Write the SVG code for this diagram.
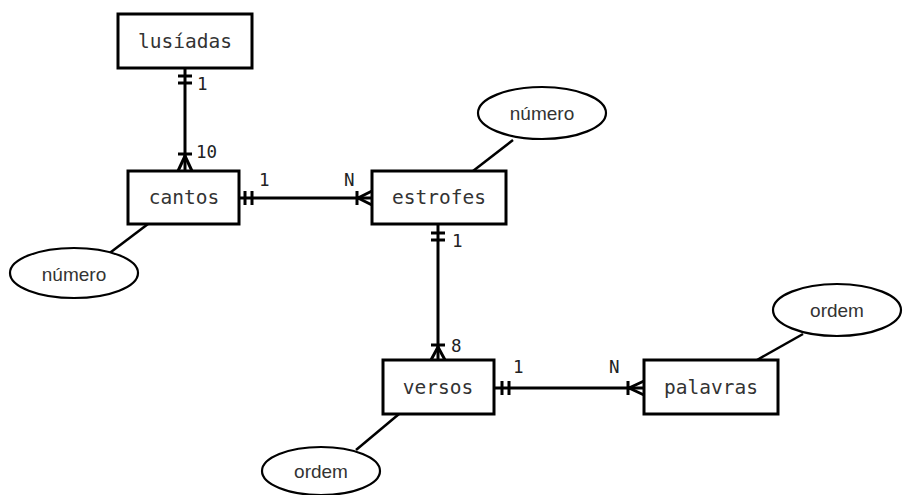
<svg xmlns="http://www.w3.org/2000/svg" width="906" height="495" viewBox="0 0 906 495">
  <style>
    .ent { fill: #fff; stroke: #000; stroke-width: 3; }
    .attr { fill: #fff; stroke: #000; stroke-width: 2.2; }
    .lbl { font-family: "DejaVu Sans Mono", monospace; font-size: 19.5px; fill: #333; text-anchor: middle; dominant-baseline: central; }
    .albl { font-family: "Liberation Sans", Arial, sans-serif; font-size: 19px; fill: #333; text-anchor: middle; dominant-baseline: central; }
    .card { font-family: "DejaVu Sans Mono", monospace; font-size: 17.5px; fill: #222; }
    .ln { stroke: #000; stroke-width: 3; fill: none; }
    .al { stroke: #000; stroke-width: 2.5; fill: none; }
  </style>

  <!-- relationship lines, cardinality marks and attribute links -->
  <g id="connectors">
    <!-- lusiadas 1 : 10 cantos -->
    <path class="ln" d="M185 68 V171"/>
    <path class="ln" d="M178 76 H192 M178 83 H192"/>
    <path class="ln" d="M178 154 H192 M185 156 L178 171 M185 156 L192 171"/>
    <text class="card" x="197" y="90">1</text>
    <text class="card" x="196" y="158">10</text>

    <!-- cantos 1 : N estrofes -->
    <path class="ln" d="M239 198 H372"/>
    <path class="ln" d="M245 191 V205 M252 191 V205"/>
    <path class="ln" d="M357 191 V205 M358 198 L372 191 M358 198 L372 205"/>
    <text class="card" x="259" y="186">1</text>
    <text class="card" x="344" y="186">N</text>

    <!-- estrofes 1 : 8 versos -->
    <path class="ln" d="M438 224 V360"/>
    <path class="ln" d="M431 233 H445 M431 240 H445"/>
    <path class="ln" d="M431 345 H445 M438 347 L431 360 M438 347 L445 360"/>
    <text class="card" x="452" y="247">1</text>
    <text class="card" x="451" y="352">8</text>

    <!-- versos 1 : N palavras -->
    <path class="ln" d="M494 388 H644"/>
    <path class="ln" d="M502 381 V395 M509 381 V395"/>
    <path class="ln" d="M628 381 V395 M629 388 L644 381 M629 388 L644 395"/>
    <text class="card" x="513" y="373">1</text>
    <text class="card" x="609" y="373">N</text>

    <!-- attribute links -->
    <path class="al" d="M513 140 L473 171"/>
    <path class="al" d="M107 255 L148 224"/>
    <path class="al" d="M803 334 L757 360"/>
    <path class="al" d="M356 450 L399 414"/>
  </g>

  <g id="lusiadas">
    <rect class="ent" x="118" y="14" width="134" height="54"/>
    <text class="lbl" x="185" y="41">lusíadas</text>
  </g>

  <g id="cantos">
    <rect class="ent" x="128" y="171" width="111" height="53"/>
    <text class="lbl" x="184" y="197">cantos</text>
  </g>

  <g id="estrofes">
    <rect class="ent" x="372" y="171" width="134" height="53"/>
    <text class="lbl" x="439" y="197">estrofes</text>
  </g>

  <g id="versos">
    <rect class="ent" x="383" y="360" width="111" height="54"/>
    <text class="lbl" x="438" y="387">versos</text>
  </g>

  <g id="palavras">
    <rect class="ent" x="644" y="360" width="134" height="54"/>
    <text class="lbl" x="711" y="387">palavras</text>
  </g>

  <g id="numero-estrofes">
    <ellipse class="attr" cx="542" cy="113" rx="64" ry="26"/>
    <text class="albl" x="542" y="113">número</text>
  </g>

  <g id="numero-cantos">
    <ellipse class="attr" cx="74" cy="273" rx="64" ry="25"/>
    <text class="albl" x="74" y="274">número</text>
  </g>

  <g id="ordem-palavras">
    <ellipse class="attr" cx="837" cy="310" rx="64" ry="26"/>
    <text class="albl" x="837" y="310">ordem</text>
  </g>

  <g id="ordem-versos">
    <ellipse class="attr" cx="321" cy="471" rx="59" ry="24"/>
    <text class="albl" x="321" y="471">ordem</text>
  </g>
</svg>
